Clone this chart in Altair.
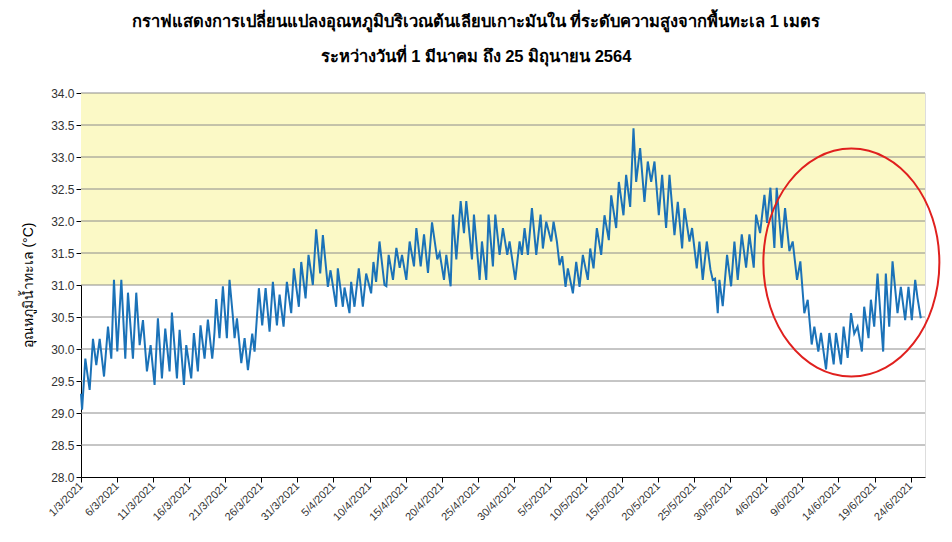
import altair as alt
import pandas as pd

# ---- data (day offset from 1/3/2021 00:00, temperature °C) ----
day_offset = [
    0.0, 0.15, 0.6, 0.9, 1.2, 1.66, 2.12, 2.59, 3.19, 3.74, 4.2, 4.57, 5.03, 5.59, 6.14, 6.51,
    7.2, 7.66, 8.13, 8.59, 9.14, 9.65, 10.2, 10.66, 11.22, 11.68, 12.28, 12.6, 13.3, 13.67,
    14.27, 14.59, 15.28, 15.65, 16.2, 16.57, 17.13, 17.59, 18.19, 18.37, 18.51, 18.74, 19.2,
    19.67, 20.22, 20.59, 21.06, 21.29, 21.62, 22.22, 22.68, 23.14, 23.74, 24.06, 24.66, 25.12,
    25.59, 26.14, 26.6, 27.16, 27.53, 28.08, 28.54, 29.14, 29.51, 30.2, 30.53, 31.13, 31.54,
    32.14, 32.6, 33.16, 33.53, 34.22, 34.59, 35.37, 35.6, 36.3, 36.53, 37.22, 37.45, 37.91,
    38.51, 39.07, 39.53, 40.22, 40.54, 40.91, 41.38, 42.07, 42.33, 42.65, 43.25, 43.72, 44.18,
    44.5, 45.1, 45.56, 46.16, 46.49, 47.09, 47.55, 48.1, 48.66, 49.39, 49.72, 50.32, 50.64,
    51.24, 51.56, 52.03, 52.63, 53.09, 53.41, 54.2, 54.47, 55.26, 55.58, 56.18, 56.5, 57.1,
    57.43, 58.03, 58.49, 59.09, 59.41, 60.2, 60.8, 61.12, 61.49, 61.95, 62.51, 63.11, 63.71,
    64.03, 64.49, 65.19, 65.51, 65.97, 66.34, 66.71, 67.17, 67.49, 68.19, 68.65, 69.11, 69.57,
    70.26, 70.59, 71.05, 71.51, 72.11, 72.57, 73.17, 73.5, 74.19, 74.56, 75.2, 75.57, 76.13,
    76.59, 76.96, 77.51, 78.11, 78.57, 79.04, 79.5, 80.1, 80.56, 81.11, 81.58, 82.27, 82.73,
    83.33, 83.65, 84.35, 84.71, 85.36, 85.73, 86.19, 86.75, 87.26, 87.58, 87.9, 88.27, 88.5,
    88.96, 89.56, 90.12, 90.58, 91.04, 91.6, 92.2, 92.66, 93.26, 93.58, 94.14, 94.74, 95.1,
    95.57, 96.12, 96.44, 97.14, 97.6, 98.2, 98.66, 99.26, 99.72, 100.27, 100.74, 101.29,
    101.66, 102.21, 102.58, 103.28, 103.74, 104.34, 104.66, 105.35, 105.72, 106.28, 106.74,
    107.19, 107.65, 108.25, 108.57, 109.17, 109.5, 109.96, 110.42, 110.88, 111.2, 111.57,
    112.04, 112.5, 113.19, 113.65, 114.25, 114.71, 115.17, 115.64, 115.96, 116.42,
]
temp_c = [
    29.3, 29.05, 29.85, 29.6, 29.36, 30.16, 29.75, 30.16, 29.57, 30.35, 29.85, 31.08, 29.96, 31.08, 29.85, 30.88,
    29.85, 30.88, 30.06, 30.45, 29.65, 30.06, 29.44, 30.48, 29.54, 30.32, 29.65, 30.57, 29.54, 30.3,
    29.44, 30.06, 29.54, 30.25, 29.65, 30.37, 29.85, 30.46, 29.85, 30.06, 30.27, 30.78, 30.17,
    30.98, 30.17, 31.08, 30.5, 30.17, 30.48, 29.78, 30.17, 29.67, 30.24, 29.96, 30.95, 30.37,
    30.95, 30.27, 31.05, 30.37, 30.85, 30.35, 31.05, 30.56, 31.26, 30.66, 31.36, 30.79, 31.47,
    31.0, 31.87, 31.18, 31.78, 30.97, 31.23, 30.66, 31.26, 30.66, 30.96, 30.56, 31.05, 30.66,
    31.26, 30.66, 31.18, 30.87, 31.36, 31.05, 31.68, 31.0, 30.98, 31.47, 31.08, 31.58, 31.27,
    31.47, 31.08, 31.68, 31.29, 31.89, 31.29, 31.79, 31.19, 31.98, 31.4, 31.5, 31.08, 31.47,
    30.98, 32.1, 31.4, 32.31, 31.81, 32.31, 31.4, 32.1, 31.08, 31.68, 31.08, 32.1, 31.29,
    32.1, 31.47, 31.89, 31.47, 31.68, 31.08, 31.68, 31.47, 31.89, 31.47, 32.2, 31.47, 32.1,
    31.57, 31.99, 31.68, 31.99, 31.68, 31.31, 31.45, 30.97, 31.26, 30.87, 31.36, 30.97, 31.47,
    31.08, 31.57, 31.26, 31.89, 31.47, 32.09, 31.7, 32.4, 31.89, 32.61, 32.09, 32.72, 32.22,
    33.45, 32.61, 33.14, 32.3, 32.93, 32.61, 32.93, 32.09, 32.72, 31.89, 32.72, 31.78, 32.3,
    31.57, 32.2, 31.68, 31.89, 31.26, 31.68, 31.08, 31.68, 31.24, 31.08, 31.1, 30.56, 31.08,
    30.67, 31.47, 30.98, 31.68, 31.08, 31.79, 31.27, 31.79, 31.27, 32.1, 31.81, 32.41, 31.97,
    32.52, 31.58, 32.52, 31.58, 32.2, 31.53, 31.68, 31.08, 31.37, 30.56, 30.77, 30.07,
    30.35, 29.96, 30.25, 29.68, 30.25, 29.76, 30.25, 29.76, 30.35, 29.86, 30.56,
    30.24, 30.35, 29.96, 30.66, 30.17, 30.77, 30.35, 31.18, 30.45, 29.96, 31.18,
    30.35, 31.37, 30.56, 30.97, 30.45, 30.97, 30.45, 31.08, 30.8, 30.48,
]

x_tick_dates = [
    "2021-03-01", "2021-03-06", "2021-03-11", "2021-03-16", "2021-03-21", "2021-03-26",
    "2021-03-31", "2021-04-05", "2021-04-10", "2021-04-15", "2021-04-20", "2021-04-25",
    "2021-04-30", "2021-05-05", "2021-05-10", "2021-05-15", "2021-05-20", "2021-05-25",
    "2021-05-30", "2021-06-04", "2021-06-09", "2021-06-14", "2021-06-19", "2021-06-24",
]
y_ticks = [28.0, 28.5, 29.0, 29.5, 30.0, 30.5, 31.0, 31.5, 32.0, 32.5, 33.0, 33.5, 34.0]
x_domain = ["2021-03-01T00:00:00", "2021-06-26T00:00:00"]
band_low, band_high = 31.0, 34.0
highlight_center = {"date": "2021-06-15T19:00:00", "value": 31.35}

title_lines = [
    "กราฟแสดงการเปลี่ยนแปลงอุณหภูมิบริเวณต้นเลียบเกาะมันใน ที่ระดับความสูงจากพื้นทะเล 1 เมตร",
    "ระหว่างวันที่ 1 มีนาคม ถึง 25 มิถุนายน 2564",
]
y_title = "อุณหภูมิน้ำทะเล (°C)"

# ---- tables ----
base = pd.Timestamp("2021-03-01")
df = pd.DataFrame({
    "date": [(base + pd.Timedelta(days=d)).strftime("%Y-%m-%dT%H:%M:%S") for d in day_offset],
    "temp": temp_c,
})
band_df = pd.DataFrame({"x0": [x_domain[0]], "x1": [x_domain[1]], "y0": [band_low], "y1": [band_high]})
grid_df = pd.DataFrame({"y": y_ticks[1:]})
ell_df = pd.DataFrame({"date": [highlight_center["date"]], "value": [highlight_center["value"]]})

tick_vals = [alt.DateTime(year=int(s[:4]), month=int(s[5:7]), date=int(s[8:10])) for s in x_tick_dates]
xscale = alt.Scale(domain=x_domain, nice=False)
yscale = alt.Scale(domain=[28, 34], nice=False, zero=False)
FONT = "Liberation Sans"

x_axis = alt.Axis(
    values=tick_vals, format="%-d/%-m/%Y", labelAngle=-45, labelAlign="right",
    labelBaseline="middle", labelFontSize=11, labelColor="#333333", labelFont=FONT,
    labelPadding=2, tickSize=5, tickColor="#000000", domainColor="#000000",
    grid=False, title=None, labelOverlap=False,
)
y_axis = alt.Axis(
    values=y_ticks, format=".1f", labelFontSize=12, labelColor="#333333", labelFont=FONT,
    tickSize=5, tickColor="#000000", domainColor="#000000", grid=False, labelOverlap=False,
    title=y_title, titleFontSize=14, titleFontWeight="normal", titleColor="#000000",
    titleAngle=-90, titleAlign="center", titleBaseline="middle", titleX=-53, titleY=192,
)

band = alt.Chart(band_df).mark_rect(color="#FBF9C6").encode(
    x=alt.X("x0:T", scale=xscale, axis=x_axis),
    x2="x1:T",
    y=alt.Y("y0:Q", scale=yscale, axis=y_axis),
    y2="y1:Q",
)
grid = alt.Chart(grid_df).mark_rule(color="#8c8c8c", strokeWidth=1).encode(
    y=alt.Y("y:Q", scale=yscale, axis=y_axis)
)
line = alt.Chart(df).mark_line(color="#1B72B8", strokeWidth=2).encode(
    x=alt.X("date:T", scale=xscale, axis=x_axis),
    y=alt.Y("temp:Q", scale=yscale, axis=y_axis),
)
ellipse_path = "M -0.772 0 A 0.772 1 0 1 1 0.772 0 A 0.772 1 0 1 1 -0.772 0 Z"
ellipse = alt.Chart(ell_df).mark_point(
    shape=ellipse_path, size=51984, filled=False, stroke="#E0201E", strokeWidth=2, opacity=1
).encode(
    x=alt.X("date:T", scale=xscale, axis=x_axis),
    y=alt.Y("value:Q", scale=yscale, axis=y_axis),
)

chart = alt.layer(band, grid, line, ellipse).properties(
    width=844, height=384,
    autosize=alt.AutoSizeParams(type="none"),
    padding={"left": 73, "top": 85, "right": 19, "bottom": 57},
    title=alt.TitleParams(
        text=title_lines, fontSize=16.5, fontWeight="bold", color="#000000",
        lineHeight=35, anchor="middle", dx=-27, offset=22, font=FONT,
    ),
).configure_view(stroke=None).configure(background="white").configure_axis(
    labelOverlap=False
)

chart.save("out.html", embed_options={"renderer": "svg", "actions": False})
